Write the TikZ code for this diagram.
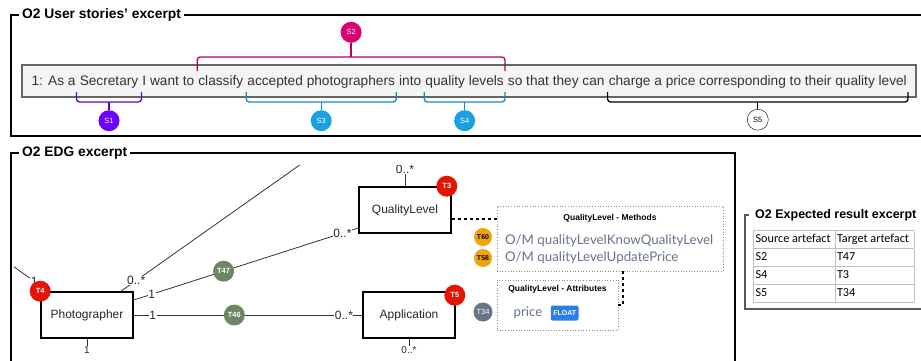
\documentclass[tikz,border=0pt]{standalone}
\usepackage{fontspec}
\setmainfont{Liberation Sans}
\newfontfamily\latofont{Lato}
\newfontfamily\tablefont{Carlito}
\usepackage{colortbl}
\usetikzlibrary{positioning,calc}

\definecolor{sPurple}{HTML}{6A00FF}
\definecolor{sPink}{HTML}{D80073}
\definecolor{sBlue}{HTML}{1BA1E2}
\definecolor{tRed}{HTML}{E51400}
\definecolor{tGreen}{HTML}{6D8764}
\definecolor{tOrange}{HTML}{F0A30A}
\definecolor{tGrey}{HTML}{647687}
\definecolor{methText}{HTML}{66738A}
\definecolor{floatBlue}{HTML}{2B7DE9}
\definecolor{storyFill}{HTML}{F4F4F4}

\begin{document}
\begin{tikzpicture}[x=1pt,y=-1pt]
\tikzstyle{panel} = [draw=black, line width=2pt]
\tikzstyle{ptitle} = [fill=white, anchor=west, inner sep=3pt,
font=\fontsize{13.8}{15}\selectfont\bfseries]
\tikzstyle{word} = [inner sep=0pt, text=black!80, font=\fontsize{13.68}{15}\selectfont]
\tikzstyle{sbadge} = [circle, minimum size=21pt, inner sep=0pt, text=white,
font=\fontsize{7.5}{8}\selectfont]
\tikzstyle{bracket} = [line width=1.3pt, rounded corners=3pt]
\tikzstyle{cls} = [rectangle, draw=black, line width=1.6pt, minimum width=92pt,
minimum height=46pt, text=black!85, font=\fontsize{12}{14}\selectfont]
\tikzstyle{assoc} = [draw=black!80, line width=0.8pt]
\tikzstyle{mult} = [fill=white, inner sep=0.5pt, text=black!85, font=\fontsize{12}{14}\selectfont]
\tikzstyle{tbadge} = [circle, minimum size=21pt, inner sep=0pt, text=white,
font=\fontsize{7.5}{8}\selectfont\bfseries]
\tikzstyle{obadge} = [circle, minimum size=18pt, inner sep=0pt, fill=tOrange,
font=\fontsize{7}{8}\selectfont\bfseries]
\tikzstyle{dotbox} = [rectangle, draw=black!45, dotted, line width=0.7pt]
\tikzstyle{boxtitle} = [inner sep=0pt, font=\fontsize{8.5}{10}\selectfont\bfseries]
\tikzstyle{titem} = [inner sep=0pt, text=methText, font=\latofont\fontsize{13.3}{15}\selectfont]
\tikzstyle{dashlink} = [draw=black, line width=1.4pt, dashed]

\useasboundingbox (0,0) rectangle (921,360);

% user stories
\draw[panel] (11,15) rectangle (930,136);
\node[ptitle] (ustitle) at (19,15) {O2 User stories' excerpt};
\node[draw=black!60, line width=1.2pt, fill=storyFill, minimum width=894pt,
minimum height=32pt] (story) at (469,81) {};

\node[word, anchor=base west] (w1) at (31.5,85) {1: As a};
\node[word, base right=3.8pt of w1] (sec) {Secretary};
\node[word, base right=3.8pt of sec] (w3) {I want to};
\node[word, base right=3.8pt of w3] (cls) {classify};
\node[word, base right=3.8pt of cls] (acc) {accepted photographers};
\node[word, base right=3.8pt of acc] (w6) {into};
\node[word, base right=3.8pt of w6] (qual) {quality levels};
\node[word, base right=3.8pt of qual] (w8) {so that they can};
\node[word, base right=3.8pt of w8] (chg) {charge a price corresponding to their quality level};

\coordinate (s2m) at ($(cls.base west)!0.5!(qual.base east)$);
\node[sbadge, fill=sPink, above=42pt of s2m] (s2) {S2};
\node[sbadge, fill=sPurple, below=25pt of sec.base] (s1) {S1};
\node[sbadge, fill=sBlue, below=25pt of acc.base] (s3) {S3};
\node[sbadge, fill=sBlue, below=25pt of qual.base] (s4) {S4};
\node[sbadge, draw=black, fill=white, text=black, below=24pt of chg.base] (s5) {S5};

\draw[bracket, draw=sPink!85!black] ([shift={(-1pt,14pt)}]cls.base west) |- ([yshift=-14pt]s2.south)
  -| ([shift={(1pt,14pt)}]qual.base east);
\draw[bracket, draw=sPink!85!black] ([yshift=-14pt]s2.south) -- (s2);
\draw[bracket, draw=sPurple!85!black] ([shift={(-3pt,-7pt)}]sec.base west) |- ([yshift=8pt]s1.north)
  -| ([shift={(3pt,-7pt)}]sec.base east);
\draw[bracket, draw=sPurple!85!black] ([yshift=8pt]s1.north) -- (s1);
\draw[bracket, draw=sBlue!85!black] ([shift={(-1pt,-7pt)}]acc.base west) |- ([yshift=8pt]s3.north)
  -| ([shift={(1pt,-7pt)}]acc.base east);
\draw[bracket, draw=sBlue!85!black] ([yshift=8pt]s3.north) -- (s3);
\draw[bracket, draw=sBlue!85!black] ([shift={(-1pt,-7pt)}]qual.base west) |- ([yshift=8pt]s4.north)
  -| ([shift={(1pt,-7pt)}]qual.base east);
\draw[bracket, draw=sBlue!85!black] ([yshift=8pt]s4.north) -- (s4);
\draw[bracket, draw=black] ([shift={(-1pt,-7pt)}]chg.base west) |- ([yshift=7pt]s5.north)
  -| ([shift={(1pt,-7pt)}]chg.base east);
\draw[bracket, draw=black] ([yshift=7pt]s5.north) -- (s5);

% EDG excerpt
\draw[panel] (11,375) |- (735,153) -- (735,375);
\node[ptitle] (edgtitle) at (19,153) {O2 EDG excerpt};

\begin{scope}
\clip (14,165) rectangle (734,360);
\node[cls] (photo) at (87,315) {Photographer};
\node[cls] (qlevel) at (405,210) {QualityLevel};
\node[cls] (appl) at (409,315) {Application};
\coordinate (offW) at (0,257);
\coordinate (offN) at (311,157);

\draw[assoc] (offW) -- ([shift={(-6pt,10pt)}]photo.north west) node[mult] {1};
\draw[assoc] ([xshift=34pt]photo.north) -- node[mult, pos=0.08] {0..*} (offN);
\draw[assoc] ([yshift=15pt]photo.east) -- node[mult, pos=0.08] {1}
  node[tbadge, fill=tGreen, pos=0.4] (t47) {T47}
  node[mult, pos=0.93] {0..*} ([yshift=-18pt]qlevel.west);
\draw[assoc] (photo.east) -- node[mult, pos=0.083] {1}
  node[tbadge, fill=tGreen, pos=0.44] (t46) {T46}
  node[mult, pos=0.92] {0..*} (appl.west);
\draw[assoc] (qlevel.north) -- ++(0,-12) node[mult, above] {0..*};
\draw[assoc] (photo.south) -- ++(0,7) node[mult, below, inner sep=0pt,
  font=\fontsize{10}{11}\selectfont] {1};
\draw[assoc] (appl.south) -- ++(0,7) node[mult, below, inner sep=0pt,
  font=\fontsize{10}{11}\selectfont] {0..*};

\node[tbadge, fill=tRed] (t4) at (photo.north west) {T4};
\node[tbadge, fill=tRed] (t3) at ([xshift=-5pt]qlevel.north east) {T3};
\node[tbadge, fill=tRed] (t5) at ([shift={(-1pt,-4pt)}]appl.north east) {T5};

% methods and attributes
\node[dotbox, minimum width=226pt, minimum height=65pt] (meth) at (610,238.5) {};
\node[boxtitle, below=8pt of meth.north] (methtitle) {QualityLevel - Methods};
\node[titem, anchor=base west] (m1) at (505,244) {O/M qualityLevelKnowQualityLevel};
\node[titem, anchor=base west] (m2) at ([yshift=-17pt]m1.base west) {O/M qualityLevelUpdatePrice};
\node[obadge] (t60) at (483,237) {T60};
\node[obadge] (t58) at (483,258) {T58};

\node[dotbox, minimum width=121pt, minimum height=50pt] (attr) at (557.5,305) {};
\node[boxtitle, below=5pt of attr.north] (attrtitle) {QualityLevel - Attributes};
\node[titem] (price) at (528,313) {price};
\node[right=8pt of price, fill=floatBlue, rounded corners=2pt, text=white, inner sep=2.5pt,
minimum height=15pt, font=\fontsize{7}{8}\selectfont\bfseries] (ftype) {FLOAT};
\node[circle, minimum size=19pt, inner sep=0pt, fill=tGrey, text=white,
font=\fontsize{7.5}{8}\selectfont] (t34) at (483,312) {T34};

\draw[dashlink] ([yshift=-9pt]qlevel.east) -- ([yshift=-9pt]qlevel.east -| meth.west);
\draw[dashlink] ([xshift=13pt]meth.south) |- (attr.east);
\end{scope}

% expected result
\draw[draw=black!65, line width=2pt] (749,215) -| (745,309) -- (930,309);
\node[ptitle, fill=none, font=\fontsize{12.5}{15}\selectfont\bfseries] (exptitle) at (752,215)
  {O2 Expected result excerpt};
\node[anchor=north west, inner sep=0pt] (restab) at (753,230) {%
\tablefont\fontsize{12.2}{14}\selectfont\arrayrulecolor{black!25}%
\setlength\tabcolsep{2pt}\renewcommand\arraystretch{1.25}%
\begin{tabular}{|p{77pt}|p{75pt}|}
\hline
Source artefact & Target artefact \\ \hline
S2 & T47 \\ \hline
S4 & T3 \\ \hline
S5 & T34 \\ \hline
\end{tabular}};
\end{tikzpicture}
\end{document}
